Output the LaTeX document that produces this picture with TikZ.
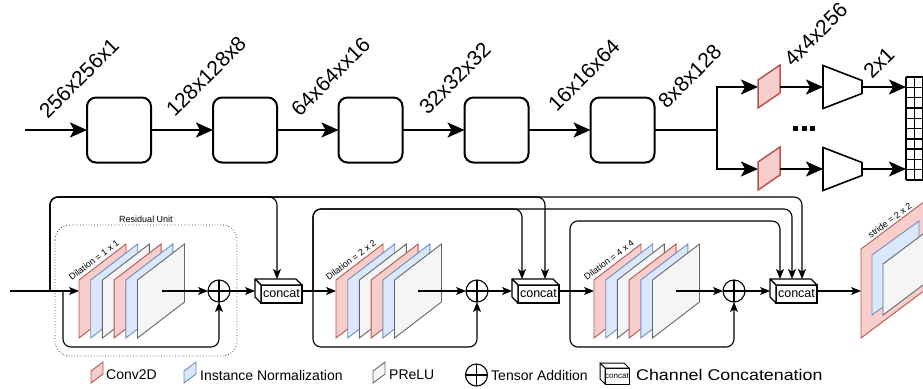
\documentclass[tikz,border=0pt]{standalone}
\usepackage{fontspec}
\setmainfont{Liberation Sans}
\usetikzlibrary{arrows.meta,calc}
\definecolor{cfill}{HTML}{F8CECC}
\definecolor{cdraw}{HTML}{B85450}
\definecolor{nfill}{HTML}{DAE8FC}
\definecolor{ndraw}{HTML}{6C8EBF}
\definecolor{pfill}{HTML}{F5F5F5}
\definecolor{pdraw}{HTML}{666666}
\tikzset{
 bigarr/.style={line width=2pt, -{Stealth[length=17pt,width=15pt,inset=4pt]}},
 bigline/.style={line width=2pt},
 blk/.style={draw, line width=2pt, rounded corners=9pt, minimum width=64pt, minimum height=65pt, inner sep=0pt, outer sep=0pt},
 dimlab/.style={font=\fontsize{21}{21}\selectfont, rotate=45, anchor=south west, inner sep=0pt},
 sarr/.style={line width=1.1pt, -{Stealth[length=10pt,width=8pt,inset=2.5pt]}},
 sline/.style={line width=1.1pt},
 conv/.style={fill=cfill, draw=cdraw, line width=0.9pt},
 norm/.style={fill=nfill, draw=ndraw, line width=0.9pt},
 prelu/.style={fill=pfill, draw=pdraw, line width=0.9pt},
 adder/.style={draw, circle, line width=1.1pt, minimum size=22pt, inner sep=0pt, outer sep=0pt},
 ccfront/.style={draw, fill=white, line width=1.1pt, minimum width=41pt, minimum height=18pt, inner sep=0pt, outer sep=0pt, font=\fontsize{12.5}{12.5}\selectfont},
 smalltxt/.style={font=\fontsize{9}{9}\selectfont, inner sep=0pt},
 leg/.style={font=\fontsize{14}{14}\selectfont, anchor=west, inner sep=0pt},
 tdraw/.style={draw, line width=1.6pt, fill=white},
}
\newcommand\mkstack[1]{%
 \foreach \i/\s in {0/conv,1/norm,2/prelu,3/conv,4/norm,5/prelu}{%
  \draw[\s] ({#1+11.7*\i},280) -- ++(47,-36) -- ++(0,58) -- ++(-47,36) -- cycle;}}
\newcommand\mkcube[3]{%
 \node[ccfront] (#1) at (#2,#3) {concat};
 \draw[line width=1.1pt, fill=white, line join=round] (#1.north west) -- ++(-6,-6) -- ++(41,0) -- (#1.north east) -- cycle;
 \draw[line width=1.1pt, fill=white, line join=round] (#1.north west) -- ++(-6,-6) -- ++(0,18) -- (#1.south west) -- cycle;}
\begin{document}
\begin{tikzpicture}[x=1pt,y=-1pt]
\useasboundingbox (0,0) rectangle (923,388);
\clip (0,0) rectangle (923,388);

% ---------------- top row ----------------
\foreach \n/\x in {b1/119,b2/245,b3/370.5,b4/496.5,b5/622.5}{\node[blk] (\n) at (\x,130) {};}
\coordinate (tin) at (25,130);
\draw[bigarr] (tin) -- (b1.west);
\draw[bigarr] (b1.east) -- (b2.west);
\draw[bigarr] (b2.east) -- (b3.west);
\draw[bigarr] (b3.east) -- (b4.west);
\draw[bigarr] (b4.east) -- (b5.west);

\node[dimlab] (l1) at (48,120) {256x256x1};
\node[dimlab] (l2) at (175,118) {128x128x8};
\node[dimlab] (l3) at (300,118) {64x64xx16};
\node[dimlab] (l4) at (428,116) {32x32x32};
\node[dimlab] (l5) at (557,113) {16x16x64};
\node[dimlab] (l6) at (667,110) {8x8x128};
\node[dimlab] (l7) at (793,68) {4x4x256};
\node[dimlab] (l8) at (872,80) {2x1};

\coordinate (sp) at (717,130);
\coordinate (pa1) at (758,87);
\coordinate (pa2) at (758,169);
\coordinate (pa1r) at (780,87);
\coordinate (pa2r) at (780,169);
\coordinate (tr1) at (823,87);
\coordinate (tr2) at (823,169);
\coordinate (tr1r) at (862,87);
\coordinate (tr2r) at (862,169);
\coordinate (g1) at (906,87);
\coordinate (g2) at (906,169);
\draw[bigline] (b5.east) -- (sp);
\draw[bigarr] (sp) |- (pa1);
\draw[bigarr] (sp) |- (pa2);
\draw[conv, line width=1.5pt] (758,80) -- (780,65) -- (780,93) -- (758,108) -- cycle;
\draw[conv, line width=1.5pt] (758,162) -- (780,147) -- (780,175) -- (758,190) -- cycle;
\draw[bigarr] (pa1r) -- (tr1);
\draw[bigarr] (pa2r) -- (tr2);
\draw[tdraw] (823,65.5) -- (862,80.5) -- (862,93.5) -- (823,108.5) -- cycle;
\draw[tdraw] (823,147.5) -- (862,162.5) -- (862,175.5) -- (823,190.5) -- cycle;
\draw[bigarr] (tr1r) -- (g1);
\draw[bigarr] (tr2r) -- (g2);
\foreach \k in {0,...,10}{\draw[line width=1.4pt] (906,{77+10.3*\k}) -- (930,{77+10.3*\k});}
\foreach \c in {906,914.5,923}{\draw[line width=1.4pt] (\c,77) -- (\c,180);}
\foreach \d in {793,801.5,810}{\fill (\d,125.5) rectangle ++(5,5);}

% ---------------- bottom row ----------------
\draw[dotted, line width=0.8pt, draw=black!75, rounded corners=15pt] (55,225) rectangle (237,356);
\node[smalltxt] (ru) at (146,219) {Residual Unit};

\coordinate (h1) at (0,197);
\coordinate (h2) at (0,209);
\coordinate (h3) at (0,221);
\coordinate (h4) at (0,347);
\coordinate (bin) at (10,291);
\coordinate (j1) at (50,291);
\coordinate (r1) at (63,291);
\coordinate (j2) at (313,291);
\coordinate (j3) at (570,291);
\coordinate (s1in) at (79,291);
\coordinate (s2in) at (336,291);
\coordinate (s3in) at (594,291);
\coordinate (s1out) at (162,291);
\coordinate (s2out) at (418,291);
\coordinate (s3out) at (676,291);
\coordinate (cc1in) at (255,291);
\coordinate (cc2in) at (512,291);
\coordinate (cc3in) at (770,291);
\coordinate (cc1out) at (302,291);
\coordinate (cc2out) at (559,291);
\coordinate (cc3out) at (817,291);
\coordinate (cc1t) at (277,279);
\coordinate (cc2ta) at (522,279);
\coordinate (cc2tb) at (545,279);
\coordinate (cc3ta) at (780,279);
\coordinate (cc3tb) at (792,279);
\coordinate (cc3tc) at (802,279);
\coordinate (strin) at (861,291);

\node[adder] (a1) at (219,291) {};
\node[adder] (a2) at (477,291) {};
\node[adder] (a3) at (734,291) {};

% skip connections
\draw[sarr, rounded corners=8pt] (j1) -- (j1 |- h1) -| (cc1t);
\draw[sarr, rounded corners=8pt] (j1) -- (j1 |- h1) -| (cc2tb);
\draw[sarr, rounded corners=8pt] (j1) -- (j1 |- h1) -| (cc3tc);
\draw[sarr, rounded corners=8pt] (j2) -- (j2 |- h2) -| (cc2ta);
\draw[sarr, rounded corners=8pt] (j2) -- (j2 |- h2) -| (cc3tb);
\draw[sarr, rounded corners=8pt] (j3) -- (j3 |- h3) -| (cc3ta);
\draw[sarr, rounded corners=8pt] (r1) -- (r1 |- h4) -| (a1);
\draw[sarr, rounded corners=8pt] (j2) -- (j2 |- h4) -| (a2);
\draw[sarr, rounded corners=8pt] (j3) -- (j3 |- h4) -| (a3);

% main flow
\draw[sarr] (bin) -- (s1in);
\draw[sarr] (cc1out) -- (s2in);
\draw[sarr] (cc2out) -- (s3in);
\draw[sarr] (cc3out) -- (strin);

\mkstack{79}
\mkstack{336}
\mkstack{594}
\node[smalltxt, rotate=37, anchor=south west] (d1) at (72,281) {Dilation = 1 x 1};
\node[smalltxt, rotate=37, anchor=south west] (d2) at (329,281) {Dilation = 2 x 2};
\node[smalltxt, rotate=37, anchor=south west] (d3) at (587,281) {Dilation = 4 x 4};

\draw[sarr] (s1out) -- (a1);
\draw[sarr] (s2out) -- (a2);
\draw[sarr] (s3out) -- (a3);
\foreach \a in {a1,a2,a3}{\draw[line width=1.1pt] (\a.north) -- (\a.south) (\a.west) -- (\a.east);}

\draw[sarr] (a1) -- (cc1in);
\draw[sarr] (a2) -- (cc2in);
\draw[sarr] (a3) -- (cc3in);

\mkcube{cc1}{281.5}{294}
\mkcube{cc2}{538.5}{294}
\mkcube{cc3}{796.5}{294}

% strided layer
\draw[conv] (861,249) -- ++(80,-60) -- ++(0,89) -- ++(-80,60) -- cycle;
\draw[norm] (872,255) -- ++(47,-34) -- ++(0,60) -- ++(-47,34) -- cycle;
\draw[prelu] (883,264) -- ++(60,-45) -- ++(0,51) -- ++(-60,45) -- cycle;
\node[smalltxt, rotate=37, anchor=south west] (st) at (871,239) {stride = 2 x 2};

% ---------------- legend ----------------
\draw[conv] (91,371) -- (103,362) -- (103,374) -- (91,383) -- cycle;
\node[leg] (lg1) at (106,375) {Conv2D};
\draw[norm] (184,371) -- (196,362) -- (196,374) -- (184,383) -- cycle;
\node[leg] (lg2) at (200,375) {Instance Normalization};
\draw[prelu] (373,371) -- (385,362) -- (385,374) -- (373,383) -- cycle;
\node[leg] (lg3) at (389,375) {PReLU};
\node[adder] (lga) at (476.5,375) {};
\draw[line width=1.1pt] (lga.north) -- (lga.south) (lga.west) -- (lga.east);
\node[leg] (lg4) at (491,375) {Tensor Addition};
\node[draw, fill=white, line width=1pt, minimum width=24pt, minimum height=16pt, inner sep=0pt, outer sep=0pt, font=\fontsize{8}{8}\selectfont] (lgc) at (617,376) {concat};
\draw[line width=1pt, fill=white, line join=round] (lgc.north west) -- ++(-5,-5) -- ++(24,0) -- (lgc.north east) -- cycle;
\draw[line width=1pt, fill=white, line join=round] (lgc.north west) -- ++(-5,-5) -- ++(0,16) -- (lgc.south west) -- cycle;
\node[leg, font=\fontsize{15.5}{15.5}\selectfont] (lg5) at (636,375) {\scalebox{1.15}[1]{Channel Concatenation}};
\end{tikzpicture}
\end{document}
